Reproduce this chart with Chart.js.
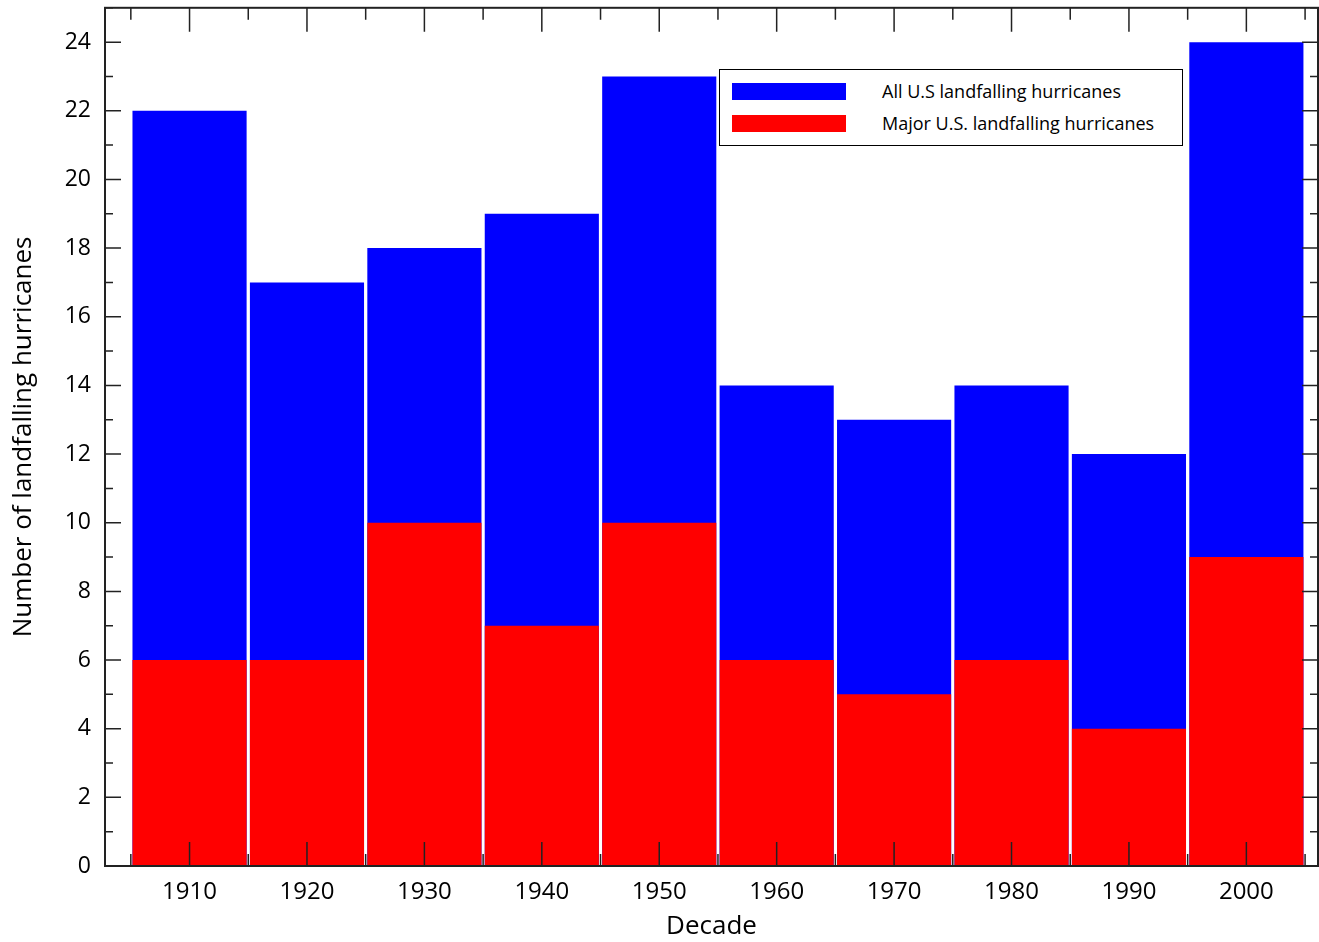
<!DOCTYPE html>
<html><head><meta charset="utf-8">
<script src="https://cdn.jsdelivr.net/npm/chart.js@4.4.1/dist/chart.umd.min.js"></script>
<style>
html,body{margin:0;padding:0;background:#fff;overflow:hidden;}
#wrap{position:relative;width:1319px;height:942px;overflow:hidden;}
#c{position:absolute;left:0;top:-12px;}
#legend{position:absolute;left:719px;top:69px;width:462px;height:75px;border:1.5px solid #000;background:#fff;font-family:"Open Sans",sans-serif;font-size:18px;color:#000;}
.li{position:absolute;left:12px;display:flex;align-items:center;}
.sw{width:114px;height:17px;margin-right:36px;}
</style></head><body>
<div id="wrap"><canvas id="c" width="1319" height="954"></canvas>
<div id="legend">
<div class="li" style="top:9px"><div class="sw" style="background:#0000ff"></div>All U.S landfalling hurricanes</div>
<div class="li" style="top:41px"><div class="sw" style="background:#ff0000"></div>Major U.S. landfalling hurricanes</div>
</div></div>
<script>
const decades=[1910,1920,1930,1940,1950,1960,1970,1980,1990,2000];
const allHurricanes=[22,17,18,19,23,14,13,14,12,24];
const majorHurricanes=[6,6,10,7,10,6,5,6,4,9];
const yTicks=[0,2,4,6,8,10,12,14,16,18,20,22,24];
const FONT='"Open Sans", sans-serif';
const tickPlugin={id:'ticks',afterDraw(ch){
 const c=ch.ctx,a=ch.chartArea,x=ch.scales.x,y=ch.scales.y;
 c.save();c.strokeStyle='#222';c.lineWidth=2;
 c.strokeRect(a.left,a.top,a.right-a.left,a.bottom-a.top);
 c.lineWidth=1.5;
 for(let v=0;v<=25;v++){const p=y.getPixelForValue(v),L=v%2===0?16:8;
  c.beginPath();c.moveTo(a.left,p);c.lineTo(a.left+L,p);c.moveTo(a.right,p);c.lineTo(a.right-L,p);c.stroke();}
 for(let d=1905;d<=2005;d+=5){const p=x.getPixelForValue(d),L=d%10===0?24:12;
  c.beginPath();c.moveTo(p,a.bottom);c.lineTo(p,a.bottom-L);c.moveTo(p,a.top);c.lineTo(p,a.top+L);c.stroke();}
 c.restore();}};
new Chart(document.getElementById('c'),{type:'bar',
 data:{datasets:[
  {label:'All U.S landfalling hurricanes',data:decades.map((d,i)=>({x:d,y:allHurricanes[i]})),backgroundColor:'#0000ff',order:2,grouped:false},
  {label:'Major U.S. landfalling hurricanes',data:decades.map((d,i)=>({x:d,y:majorHurricanes[i]})),backgroundColor:'#ff0000',order:1,grouped:false}]},
 options:{responsive:false,animation:false,
  layout:{padding:{top:0,right:1,left:0,bottom:0}},
  plugins:{legend:{display:false},tooltip:{enabled:false}},
  datasets:{bar:{barPercentage:0.972,categoryPercentage:1}},
  scales:{
   x:{type:'linear',offset:false,min:1902.8,max:2006.1,afterFit(s){s.height=76;},
    afterBuildTicks(s){s.ticks=decades.map(v=>({value:v}));},
    grid:{display:false,offset:false},border:{display:false},
    ticks:{font:{family:FONT,size:24},color:'#000',padding:4,maxRotation:0,callback:v=>String(v)},
    title:{display:true,text:'Decade',font:{family:FONT,size:26},color:'#000',padding:{top:-6,bottom:0}}},
   y:{min:0,max:25,afterFit(s){s.width=105;},
    afterBuildTicks(s){s.ticks=yTicks.map(v=>({value:v}));},
    grid:{display:false},border:{display:false},
    ticks:{font:{family:FONT,size:23},color:'#000',padding:6},
    title:{display:true,text:'Number of landfalling hurricanes',font:{family:FONT,size:26},color:'#000',padding:{top:8,bottom:0}}}}},
 plugins:[tickPlugin]});
</script></body></html>
